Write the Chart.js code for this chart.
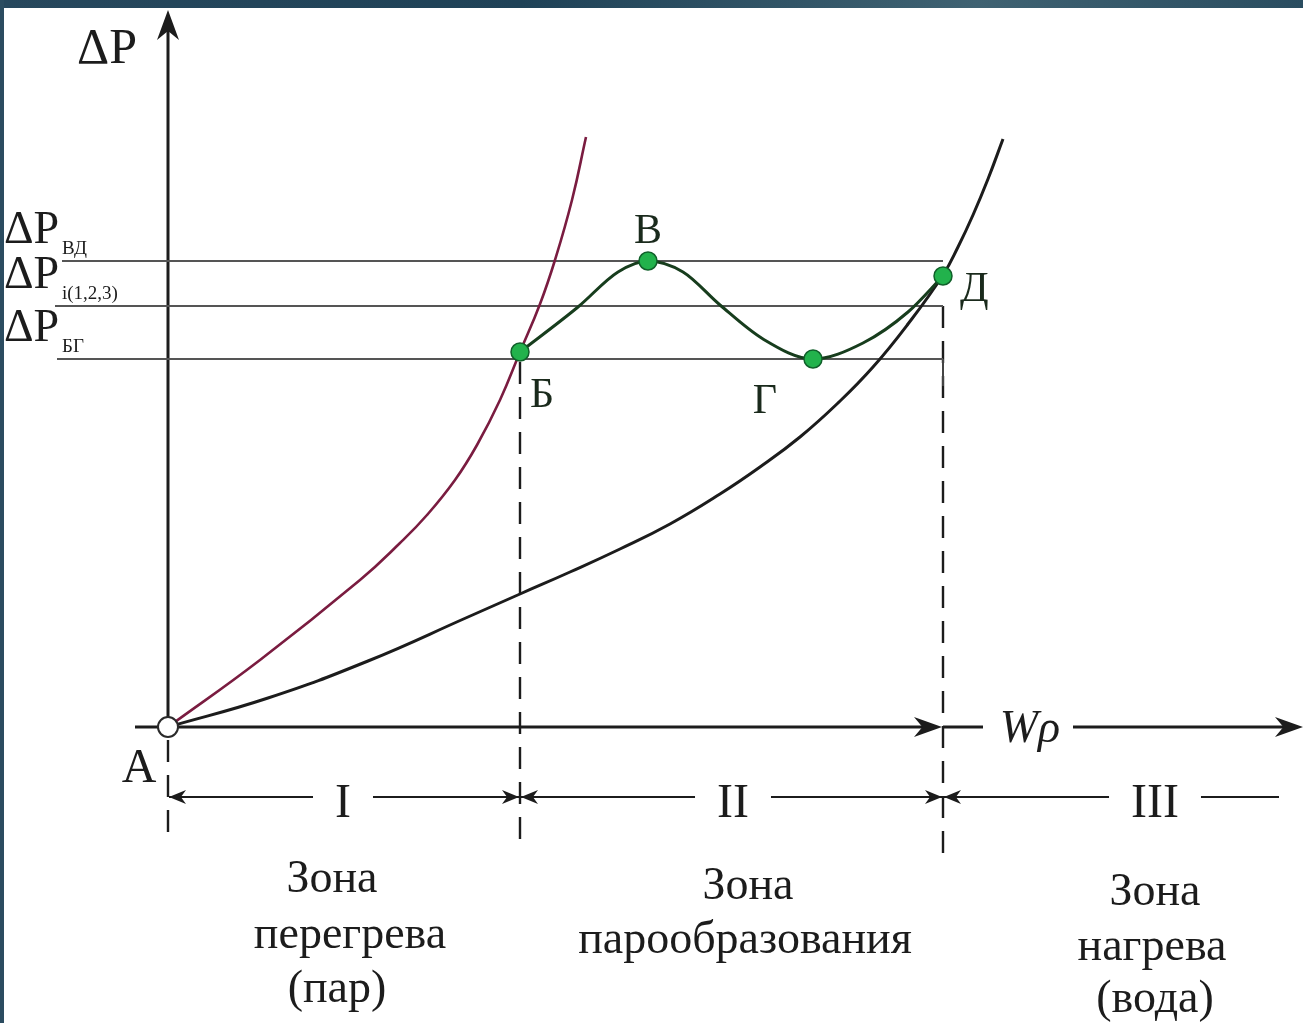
<!DOCTYPE html>
<html>
<head>
<meta charset="utf-8">
<script src="https://cdn.jsdelivr.net/npm/chart.js@4.4.1/dist/chart.umd.min.js"></script>
<style>
  html, body { margin: 0; padding: 0; background: #fff; overflow: hidden; }
  canvas { display: block; }
</style>
</head>
<body>
<canvas id="chart" width="1303" height="1023"></canvas>
<script>
// Wρ on x, ΔP on y, arbitrary units, origin at point A
const steamX = [0, 0.92, 1.92, 2.32, 2.59, 2.87, 3.09, 3.32, 3.52, 3.72, 3.87, 4.04, 4.18];
const steamY = [0, 0.67, 1.47, 1.84, 2.12, 2.47, 2.82, 3.27, 3.75, 4.23, 4.67, 5.27, 5.90];
const waterX = [0, 1.00, 2.00, 3.00, 3.52, 4.02, 4.52, 5.02, 5.52, 5.92, 6.32, 6.70, 7.05, 7.40, 7.75, 7.90, 8.05, 8.20, 8.35];
const waterY = [0, 0.29, 0.66, 1.10, 1.33, 1.55, 1.78, 2.03, 2.33, 2.60, 2.90, 3.24, 3.60, 4.03, 4.52, 4.80, 5.12, 5.48, 5.88];
const boilX = [3.52, 4.10, 4.50, 4.80, 5.15, 5.52, 5.95, 6.45, 6.95, 7.40, 7.75];
const boilY = [3.75, 4.20, 4.55, 4.66, 4.55, 4.22, 3.88, 3.68, 3.84, 4.15, 4.51];

const keyNames = ['Б', 'В', 'Г', 'Д'];
const keyX = [3.52, 4.80, 6.45, 7.75];
const keyY = [3.75, 4.66, 3.68, 4.51];

const levelNames = ['ВД', 'i(1,2,3)', 'БГ'];
const levelY = [4.66, 4.21, 3.68];
const levelStart = [-1.06, -1.13, -1.11];

const zoneEdges = [0, 3.52, 7.75];
const zoneNums = ['I', 'II', 'III'];
const zoneText = [
  ['Зона', 'перегрева', '(пар)'],
  ['Зона', 'парообразования'],
  ['Зона', 'нагрева', '(вода)']
];

const ink = '#1c1c1c';
const serif = '"Liberation Serif", "DejaVu Serif", serif';

function pts(xs, ys) {
  return xs.map((x, i) => ({ x: x, y: ys[i] }));
}

function curve(data, color, width, monotone) {
  return {
    data: data,
    showLine: true,
    borderColor: color,
    borderWidth: width,
    pointRadius: 0,
    tension: 0.45,
    cubicInterpolationMode: monotone ? 'monotone' : 'default'
  };
}

function segment(x1, y1, x2, y2, color, width, dash) {
  return {
    data: [{ x: x1, y: y1 }, { x: x2, y: y2 }],
    showLine: true,
    borderColor: color,
    borderWidth: width,
    borderDash: dash || [],
    pointRadius: 0
  };
}

// first dataset is drawn on top
let datasets = [
  {
    data: [{ x: 0, y: 0 }],
    pointRadius: 10,
    pointBackgroundColor: '#fff',
    pointBorderColor: '#2a2a2a',
    pointBorderWidth: 2,
    showLine: false
  },
  {
    data: pts(keyX, keyY),
    pointRadius: 9,
    pointBackgroundColor: '#22b24c',
    pointBorderColor: '#10602a',
    pointBorderWidth: 1.5,
    showLine: false
  },
  curve(pts(boilX, boilY), '#173d1d', 3, true),
  curve(pts(steamX, steamY), '#7a1c40', 2.6, false),
  curve(pts(waterX, waterY), ink, 3, false)
];

levelY.forEach((y, i) => {
  datasets.push(segment(levelStart[i], y, zoneEdges[2], y, '#555', 2));
});
datasets.push(segment(zoneEdges[2], levelY[2], zoneEdges[2], levelY[2] - 0.27, '#444', 2));

// dashed zone borders
datasets.push(segment(zoneEdges[0], -0.13, zoneEdges[0], -1.18, ink, 2.4, [22, 13]));
datasets.push(segment(zoneEdges[1], keyY[0] - 0.1, zoneEdges[1], -1.18, ink, 2.4, [22, 13]));
datasets.push(segment(zoneEdges[2], levelY[1], zoneEdges[2], -1.28, ink, 2.4, [22, 13]));

function arrowHead(ctx, x, y, dx, dy, len, half) {
  ctx.beginPath();
  ctx.moveTo(x, y);
  ctx.lineTo(x - dx * len - dy * half, y - dy * len + dx * half);
  ctx.lineTo(x - dx * len * 0.7, y - dy * len * 0.7);
  ctx.lineTo(x - dx * len + dy * half, y - dy * len - dx * half);
  ctx.closePath();
  ctx.fill();
}

function line(ctx, x1, y1, x2, y2) {
  ctx.beginPath();
  ctx.moveTo(x1, y1);
  ctx.lineTo(x2, y2);
  ctx.stroke();
}

const diagram = {
  id: 'diagram',
  beforeDatasetsDraw(chart) {
    const ctx = chart.ctx, xs = chart.scales.x, ys = chart.scales.y;
    const x0 = xs.getPixelForValue(0), y0 = ys.getPixelForValue(0);
    const xD = xs.getPixelForValue(zoneEdges[2]);
    ctx.save();
    ctx.strokeStyle = ink;
    ctx.fillStyle = ink;
    ctx.lineWidth = 3;
    // ΔP axis
    line(ctx, x0, y0, x0, 30);
    arrowHead(ctx, x0, 10, 0, -1, 30, 11);
    // Wρ axis
    line(ctx, x0 - 33, y0, xD - 14, y0);
    arrowHead(ctx, xD - 1, y0, 1, 0, 28, 10);
    line(ctx, xD, y0, xD + 40, y0);
    line(ctx, xD + 130, y0, 1285, y0);
    arrowHead(ctx, 1303, y0, 1, 0, 28, 10);
    ctx.restore();
  },
  afterDatasetsDraw(chart) {
    const ctx = chart.ctx, xs = chart.scales.x, ys = chart.scales.y;
    const x0 = xs.getPixelForValue(0), y0 = ys.getPixelForValue(0);
    ctx.save();
    ctx.fillStyle = ink;
    ctx.strokeStyle = ink;
    ctx.textBaseline = 'alphabetic';

    // axis names
    ctx.font = '50px ' + serif;
    ctx.textAlign = 'center';
    ctx.fillText('ΔP', x0 - 61, 63);
    ctx.font = 'italic 46px ' + serif;
    ctx.fillText('Wρ', xs.getPixelForValue(zoneEdges[2]) + 87, 742);
    ctx.font = '48px ' + serif;
    ctx.fillText('А', x0 - 29, 782);

    // level labels
    levelY.forEach((v, i) => {
      const py = ys.getPixelForValue(v);
      ctx.textAlign = 'left';
      ctx.font = '46px ' + serif;
      ctx.fillText('ΔP', 4, py - 18);
      ctx.font = '19px ' + serif;
      ctx.fillText(levelNames[i], 62, py - 7);
    });

    // key point letters
    ctx.fillStyle = '#1a2a1c';
    ctx.font = '42px ' + serif;
    const off = [[10, 55, 'left'], [0, -18, 'center'], [-48, 54, 'center'], [17, 25, 'left']];
    keyNames.forEach((n, i) => {
      ctx.textAlign = off[i][2];
      ctx.fillText(n, xs.getPixelForValue(keyX[i]) + off[i][0], ys.getPixelForValue(keyY[i]) + off[i][1]);
    });

    // zone dimension row
    ctx.fillStyle = ink;
    ctx.lineWidth = 2;
    const dimY = ys.getPixelForValue(-0.70);
    const ends = zoneEdges.map(v => xs.getPixelForValue(v)).concat([1280]);
    const centers = [343, 733, 1155];
    ctx.font = '48px ' + serif;
    ctx.textAlign = 'center';
    for (let i = 0; i < 3; i++) {
      const a = ends[i] + 1, b = ends[i + 1] - 1;
      const half = ctx.measureText(zoneNums[i]).width / 2 + 22;
      line(ctx, a, dimY, centers[i] - half, dimY);
      line(ctx, centers[i] + half, dimY, b, dimY);
      arrowHead(ctx, a, dimY, -1, 0, 17, 7);
      if (i < 2) arrowHead(ctx, b, dimY, 1, 0, 17, 7);
      ctx.fillText(zoneNums[i], centers[i], dimY + 20);
    }

    // zone captions
    ctx.font = '46px ' + serif;
    const capX = [[332, 350, 337], [748, 745], [1155, 1152, 1155]];
    const capY = [[892, 948, 1002], [899, 953], [905, 960, 1012]];
    zoneText.forEach((rows, i) => {
      rows.forEach((t, j) => ctx.fillText(t, capX[i][j], capY[i][j]));
    });
    ctx.restore();
  },
  afterDraw(chart) {
    const ctx = chart.ctx;
    ctx.save();
    const g = ctx.createLinearGradient(0, 0, 1303, 0);
    g.addColorStop(0, '#27485d');
    g.addColorStop(0.4, '#1f4257');
    g.addColorStop(0.75, '#3f6272');
    g.addColorStop(1, '#2a4d60');
    ctx.fillStyle = g;
    ctx.fillRect(0, 0, 1303, 8);
    ctx.fillStyle = '#2b4c60';
    ctx.fillRect(0, 0, 4, 1023);
    ctx.restore();
  }
};

new Chart(document.getElementById('chart'), {
  type: 'scatter',
  data: { datasets: datasets },
  options: {
    responsive: false,
    animation: false,
    layout: { padding: 0, autoPadding: false },
    plugins: { legend: { display: false }, tooltip: { enabled: false } },
    elements: { line: { borderCapStyle: 'butt' } },
    scales: {
      x: { type: 'linear', display: false, min: -1.68, max: 11.35 },
      y: { type: 'linear', display: false, min: -2.96, max: 7.27 }
    }
  },
  plugins: [diagram]
});
</script>
</body>
</html>
